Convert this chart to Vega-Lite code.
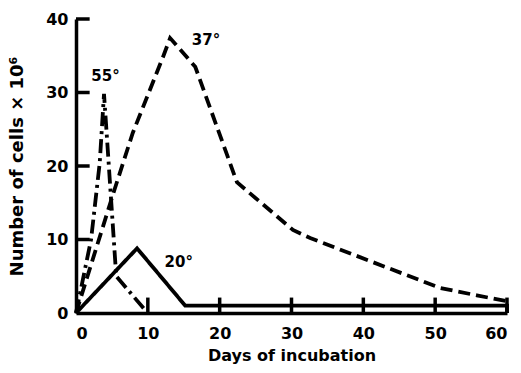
{
  "$schema": "https://vega.github.io/schema/vega-lite/v6.json",
  "width": 431,
  "height": 294,
  "autosize": "none",
  "padding": {"left": 76, "top": 19, "right": 14, "bottom": 60},
  "background": "white",
  "config": {
    "view": {"stroke": null},
    "font": "DejaVu Sans",
    "axis": {
      "domainColor": "black",
      "domainWidth": 3.5,
      "ticks": false,
      "grid": false,
      "labelFont": "DejaVu Sans",
      "labelFontWeight": "bold",
      "labelFontSize": 16,
      "labelColor": "black",
      "titleFont": "DejaVu Sans",
      "titleFontWeight": "bold",
      "titleColor": "black"
    }
  },
  "datasets": {
    "curves": [
      {"series": "55°", "day": 0, "cells": 0},
      {"series": "55°", "day": 2.1, "cells": 10},
      {"series": "55°", "day": 3.3, "cells": 20.4},
      {"series": "55°", "day": 3.9, "cells": 29.8},
      {"series": "55°", "day": 5.6, "cells": 5},
      {"series": "55°", "day": 9.8, "cells": 0.2},
      {"series": "37°", "day": 0, "cells": 0},
      {"series": "37°", "day": 5.3, "cells": 16.6},
      {"series": "37°", "day": 7.9, "cells": 24.5},
      {"series": "37°", "day": 12.1, "cells": 34.8},
      {"series": "37°", "day": 13.1, "cells": 37.4},
      {"series": "37°", "day": 16.6, "cells": 33.5},
      {"series": "37°", "day": 22.4, "cells": 17.8},
      {"series": "37°", "day": 30.2, "cells": 11.3},
      {"series": "37°", "day": 32.6, "cells": 10.2},
      {"series": "37°", "day": 50.7, "cells": 3.4},
      {"series": "37°", "day": 55.8, "cells": 2.4},
      {"series": "37°", "day": 60, "cells": 1.6},
      {"series": "20°", "day": 0, "cells": 0},
      {"series": "20°", "day": 8.5, "cells": 8.8},
      {"series": "20°", "day": 15.2, "cells": 1.0},
      {"series": "20°", "day": 60, "cells": 1.0},
      {"series": "20°", "day": 60, "cells": 0}
    ],
    "labels": [
      {"label": "55°", "day": 4.1, "cells": 32.3},
      {"label": "37°", "day": 18.1, "cells": 37.2},
      {"label": "20°", "day": 14.3, "cells": 6.9}
    ],
    "yticks": [{"v": 10}, {"v": 20}, {"v": 30}, {"v": 40}],
    "xticks": [{"v": 10}, {"v": 20}, {"v": 30}, {"v": 40}, {"v": 50}, {"v": 60}]
  },
  "layer": [
    {
      "data": {"name": "curves"},
      "mark": {"type": "line", "color": "black", "strokeWidth": 3.8, "strokeCap": "butt", "strokeJoin": "miter"},
      "encoding": {
        "x": {
          "field": "day", "type": "quantitative",
          "scale": {"domain": [0, 60], "nice": false},
          "axis": {"values": [0, 10, 20, 30, 40, 50, 60], "labelPadding": 12, "title": "Days of incubation", "titleFontSize": 16, "titlePadding": 6}
        },
        "y": {
          "field": "cells", "type": "quantitative",
          "scale": {"domain": [0, 40], "nice": false},
          "axis": {"values": [0, 10, 20, 30, 40], "labelPadding": 8, "title": "Number of cells × 10⁶", "titleFontSize": 18, "titlePadding": 19}
        },
        "detail": {"field": "series"},
        "strokeDash": {
          "field": "series", "type": "nominal",
          "scale": {"domain": ["55°", "37°", "20°"], "range": [[14, 5, 3, 5], [12, 6], [1, 0]]},
          "legend": null
        }
      }
    },
    {
      "data": {"name": "yticks"},
      "mark": {"type": "rule", "color": "black", "strokeWidth": 3.5},
      "encoding": {
        "y": {"field": "v", "type": "quantitative"},
        "x": {"datum": 0, "type": "quantitative"},
        "x2": {"datum": 1.9}
      }
    },
    {
      "data": {"name": "xticks"},
      "mark": {"type": "rule", "color": "black", "strokeWidth": 3.5},
      "encoding": {
        "x": {"field": "v", "type": "quantitative"},
        "y": {"datum": 0, "type": "quantitative"},
        "y2": {"datum": 2.1}
      }
    },
    {
      "data": {"name": "labels"},
      "mark": {"type": "text", "font": "DejaVu Sans", "fontWeight": "bold", "fontSize": 15, "color": "black"},
      "encoding": {
        "x": {"field": "day", "type": "quantitative"},
        "y": {"field": "cells", "type": "quantitative"},
        "text": {"field": "label"}
      }
    }
  ]
}
